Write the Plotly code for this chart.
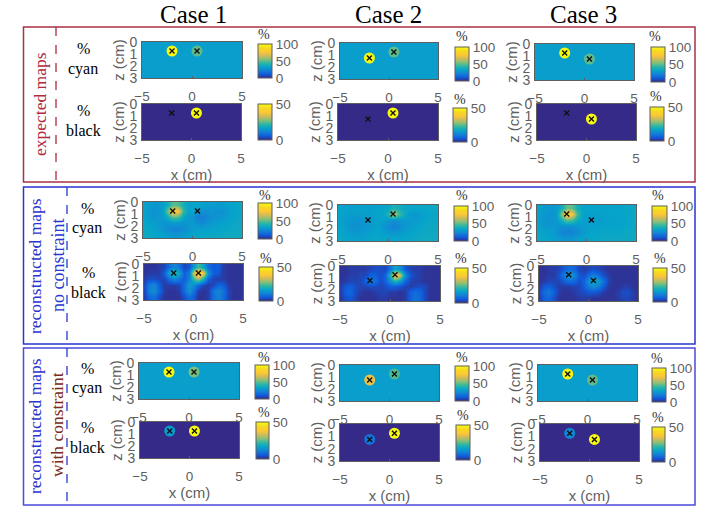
import plotly.graph_objects as go

CASES = ["Case 1", "Case 2", "Case 3"]
X_GRID = [-5, -4.5, -4, -3.5, -3, -2.5, -2, -1.5, -1, -0.5, 0, 0.5, 1, 1.5, 2, 2.5, 3, 3.5, 4, 4.5, 5]
Z_GRID = [0.25, 0.75, 1.25, 1.75, 2.25, 2.75]
X_TICKS = [-5, 0, 5]
Z_TICKS = [0, 1, 2, 3]
CYAN_TICKS = [0, 50, 100]
BLACK_TICKS = [0, 50]
CYAN_MAX = 100
BLACK_MAX = 50

# source positions (x, z) per case
SOURCES = [[(-2, 0.75), (0.5, 0.75)], [(-2, 1.25), (0.5, 0.75)], [(-2, 0.75), (0.5, 1.25)]]

# background level and the two source levels of the piecewise maps
CYAN_BG = 31
BLACK_BG = 0
EXPECTED_CYAN = [[100, 50], [100, 50], [100, 50]]
EXPECTED_BLACK = [[0, 50], [0, 50], [0, 50]]
CONSTRAINED_CYAN = [[100, 53], [72, 48], [98, 50]]
CONSTRAINED_BLACK = [[15, 50], [9, 50], [12, 50]]

RC1 = [
    [33, 31, 29, 29, 31, 38, 50, 48, 38, 33, 33, 33, 32, 31, 31, 30, 30, 32, 33, 34, 35],
    [33, 30, 27, 28, 32, 55, 82, 76, 44, 33, 34, 28, 27, 27, 28, 27, 27, 30, 32, 33, 34],
    [33, 31, 28, 30, 31, 38, 50, 46, 34, 30, 28, 22, 21, 24, 27, 28, 29, 31, 33, 34, 35],
    [34, 33, 31, 30, 28, 28, 29, 28, 28, 29, 30, 26, 25, 28, 30, 31, 32, 33, 34, 35, 35],
    [35, 34, 33, 31, 28, 25, 23, 23, 25, 28, 31, 32, 32, 32, 33, 33, 34, 34, 35, 35, 36],
    [36, 35, 34, 33, 32, 30, 29, 29, 30, 32, 33, 34, 34, 34, 35, 35, 35, 36, 36, 36, 36],
]
RB1 = [
    [1, 1, 1, 2, 3, 8, 12, 9, 3, 5, 15, 23, 17, 8, 5, 6, 2, 1, 1, 1, 1],
    [1, 2, 2, 2, 6, 17, 22, 17, 6, 10, 36, 44, 38, 14, 6, 5, 2, 1, 1, 1, 1],
    [2, 4, 4, 3, 3, 8, 12, 9, 6, 11, 23, 29, 19, 6, 3, 2, 2, 1, 1, 1, 1],
    [3, 10, 12, 6, 2, 2, 2, 3, 8, 15, 12, 7, 3, 2, 3, 7, 6, 2, 1, 1, 1],
    [3, 11, 13, 7, 2, 1, 1, 2, 8, 14, 8, 2, 1, 2, 9, 12, 9, 3, 1, 1, 1],
    [2, 7, 8, 4, 1, 1, 1, 1, 4, 8, 5, 1, 1, 2, 8, 11, 8, 3, 1, 1, 1],
]
RC2 = [
    [33, 33, 32, 32, 32, 32, 32, 32, 33, 33, 34, 40, 38, 35, 34, 34, 34, 34, 34, 35, 35],
    [33, 32, 31, 31, 31, 31, 31, 32, 33, 34, 40, 65, 48, 38, 32, 29, 30, 32, 33, 34, 34],
    [32, 31, 30, 28, 28, 29, 30, 31, 32, 32, 30, 26, 28, 30, 30, 30, 31, 33, 34, 34, 35],
    [33, 32, 29, 27, 27, 28, 29, 31, 32, 29, 25, 22, 24, 28, 30, 32, 33, 34, 35, 35, 35],
    [34, 33, 31, 29, 29, 30, 31, 32, 33, 31, 29, 28, 29, 31, 32, 33, 34, 35, 35, 35, 36],
    [35, 34, 33, 32, 32, 32, 33, 34, 34, 34, 33, 33, 33, 34, 34, 35, 35, 36, 36, 36, 36],
]
RB2 = [
    [1, 1, 2, 2, 2, 2, 3, 4, 4, 3, 9, 17, 13, 5, 3, 2, 2, 1, 1, 1, 1],
    [1, 1, 2, 2, 3, 3, 6, 6, 4, 6, 20, 42, 32, 13, 5, 3, 2, 1, 1, 1, 1],
    [1, 2, 3, 3, 3, 6, 10, 8, 4, 6, 13, 20, 15, 7, 3, 2, 2, 1, 1, 1, 1],
    [2, 5, 6, 4, 3, 3, 4, 4, 3, 4, 6, 6, 5, 3, 2, 3, 4, 3, 1, 1, 1],
    [2, 6, 7, 4, 2, 1, 1, 2, 3, 3, 2, 2, 1, 2, 6, 8, 7, 3, 1, 1, 1],
    [1, 4, 5, 3, 1, 1, 1, 1, 2, 2, 1, 1, 1, 2, 6, 9, 7, 3, 1, 1, 1],
]
RC3 = [
    [33, 31, 29, 29, 31, 38, 52, 50, 38, 33, 33, 33, 33, 33, 33, 33, 33, 33, 34, 34, 35],
    [33, 30, 28, 28, 32, 58, 85, 76, 46, 34, 32, 32, 32, 32, 33, 33, 33, 33, 34, 34, 35],
    [32, 29, 27, 28, 30, 40, 50, 46, 36, 32, 31, 30, 30, 31, 32, 32, 33, 33, 33, 34, 35],
    [33, 30, 29, 30, 28, 26, 26, 27, 28, 30, 31, 32, 32, 33, 33, 33, 33, 33, 34, 34, 35],
    [34, 33, 32, 31, 27, 23, 22, 23, 26, 29, 32, 33, 33, 34, 34, 34, 34, 34, 35, 35, 35],
    [35, 34, 33, 32, 30, 29, 29, 29, 31, 32, 33, 34, 34, 35, 35, 35, 35, 35, 35, 35, 36],
]
RB3 = [
    [1, 1, 2, 2, 3, 6, 8, 7, 3, 2, 3, 4, 3, 2, 1, 1, 1, 1, 1, 1, 1],
    [1, 1, 2, 2, 5, 10, 15, 12, 5, 4, 8, 11, 8, 4, 2, 1, 1, 1, 1, 1, 1],
    [1, 2, 3, 3, 3, 6, 8, 7, 4, 7, 14, 17, 15, 9, 3, 1, 1, 1, 1, 1, 1],
    [2, 5, 6, 4, 2, 2, 2, 3, 3, 6, 11, 13, 11, 6, 2, 1, 1, 2, 2, 1, 1],
    [3, 8, 10, 6, 2, 1, 1, 2, 3, 4, 5, 5, 4, 2, 1, 1, 2, 4, 4, 2, 1],
    [2, 6, 7, 4, 1, 1, 1, 1, 2, 2, 2, 1, 1, 1, 1, 1, 2, 3, 3, 2, 1],
]

PARULA = [
    [0.0, "#352a87"], [0.11, "#0f5cdd"], [0.22, "#1481d6"], [0.33, "#06a4ca"],
    [0.44, "#2eb7a4"], [0.55, "#87bf77"], [0.66, "#d1bb59"], [0.77, "#fec832"],
    [0.88, "#f5d923"], [1.0, "#f9fb0e"],
]

W, H = 712, 515
GRAY = "#5f5f5f"
SANS = "Liberation Sans"
SERIF = "Liberation Serif"

# panel frame (left, top, right, bottom), colorbar frame, colorbar % label position
# order: row expected cyan, expected black, recon cyan, recon black, constrained cyan, constrained black
GEOM = [
    [((142, 42, 242, 78), (258, 44, 272, 78), (264, 35)),
     ((142, 104, 241, 140), (258, 104, 272, 140), None),
     ((143, 202, 242, 238), (258, 203, 272, 239), (265, 195)),
     ((144, 264, 243, 300), (259, 267, 273, 301), (266, 258)),
     ((139, 363, 239, 399), (255, 365, 269, 399), (264, 357)),
     ((140, 422, 239, 458), (256, 422, 269, 459), (264, 412))],
    [((340, 43, 438, 79), (455, 47, 469, 81), (462, 36)),
     ((338, 104, 438, 140), (453, 108, 467, 142), (460, 99)),
     ((338, 205, 438, 241), (454, 206, 468, 241), (462, 195)),
     ((340, 266, 440, 301), (455, 268, 468, 303), (461, 258)),
     ((340, 365, 439, 401), (455, 366, 469, 401), (462, 357)),
     ((340, 424, 439, 461), (456, 425, 470, 460), (463, 415))],
    [((535, 44, 634, 80), (651, 47, 665, 82), (655, 36)),
     ((537, 104, 636, 140), (650, 107, 664, 141), (656, 97)),
     ((537, 205, 636, 241), (652, 206, 667, 241), (658, 195)),
     ((539, 266, 638, 301), (653, 268, 667, 302), (660, 258)),
     ((538, 365, 637, 401), (652, 368, 666, 402), (657, 358)),
     ((540, 424, 639, 461), (652, 427, 665, 462), (658, 417))],
]

RECON = [[RC1, RB1], [RC2, RB2], [RC3, RB3]]
LEVELS = [EXPECTED_CYAN, EXPECTED_BLACK, None, None, CONSTRAINED_CYAN, CONSTRAINED_BLACK]

fig = go.Figure()
layout = {}
annotations = []
shapes = []


def note(x, y, text, size, color="black", angle=0, family=SERIF):
    annotations.append(dict(x=x / W, y=1 - y / H, xref="paper", yref="paper", text=text,
                            showarrow=False, xanchor="center", yanchor="middle",
                            textangle=angle, font=dict(family=family, size=size, color=color)))


n = 0
for c in range(3):
    for r in range(6):
        n += 1
        frame, bar, pct = GEOM[c][r]
        l, t, rr, b = frame
        bl, bt, br, bb = bar
        is_cyan = r % 2 == 0
        vmax = CYAN_MAX if is_cyan else BLACK_MAX
        ticks = CYAN_TICKS if is_cyan else BLACK_TICKS
        xa, ya = f"x{n}", f"y{n}"
        colorbar = dict(x=bl / W, xanchor="left", y=1 - bb / H, yanchor="bottom",
                        len=(bb - bt) / H, lenmode="fraction", thickness=br - bl,
                        thicknessmode="pixels", xpad=0, ypad=0, outlinecolor=GRAY, outlinewidth=1,
                        tickvals=ticks, ticks="", ticklabelposition="outside",
                        tickfont=dict(family=SANS, size=13.5, color=GRAY))
        common = dict(xaxis=xa, yaxis=ya, zmin=0, zmax=vmax, colorscale=PARULA,
                      colorbar=colorbar, hoverinfo="skip")
        if r in (2, 3):
            fig.add_trace(go.Heatmap(x=X_GRID, y=Z_GRID, z=RECON[c][r - 2], zsmooth="best", **common))
        else:
            bg = CYAN_BG if is_cyan else BLACK_BG
            fig.add_trace(go.Heatmap(x=[-5, 5], y=[0, 3], z=[[bg, bg], [bg, bg]], **common))
            levels = LEVELS[r][c]
            fig.add_trace(go.Scatter(
                x=[s[0] for s in SOURCES[c]], y=[s[1] for s in SOURCES[c]], mode="markers",
                xaxis=xa, yaxis=ya, showlegend=False, hoverinfo="skip",
                marker=dict(size=11, symbol="circle", color=levels, cmin=0, cmax=vmax,
                            colorscale=PARULA, showscale=False, line=dict(width=0)),
            ))
        fig.add_trace(go.Scatter(
            x=[s[0] for s in SOURCES[c]], y=[s[1] for s in SOURCES[c]], mode="markers",
            xaxis=xa, yaxis=ya, showlegend=False, hoverinfo="skip",
            marker=dict(size=5, symbol="x-thin", color="#111111", line=dict(width=1.4, color="#111111")),
        ))
        suffix = "" if n == 1 else str(n)
        xaxis = dict(domain=[l / W, rr / W], range=[-5, 5], anchor=ya, tickvals=X_TICKS,
                     showgrid=False, zeroline=False, showline=True, mirror=True, linecolor=GRAY,
                     linewidth=1, ticks="inside", ticklen=2, tickcolor=GRAY, ticklabelstandoff=6,
                     tickfont=dict(family=SANS, size=13.5, color=GRAY))
        if not is_cyan:
            xaxis["title"] = dict(text="x (cm)", standoff=3, font=dict(family=SANS, size=15, color=GRAY))
        yaxis = dict(domain=[1 - b / H, 1 - t / H], range=[3, 0], anchor=xa, tickvals=Z_TICKS,
                     showgrid=False, zeroline=False, showline=True, mirror=True, linecolor=GRAY,
                     linewidth=1, ticks="", ticklabelstandoff=1,
                     tickfont=dict(family=SANS, size=14, color=GRAY),
                     title=dict(text="z (cm)", standoff=1, font=dict(family=SANS, size=15, color=GRAY)))
        layout["xaxis" + suffix] = xaxis
        layout["yaxis" + suffix] = yaxis
        if pct:
            note(pct[0], pct[1], "%", 14, "#333333")

for i, name in enumerate(CASES):
    note([193, 388, 583][i], 15, name, 25)

RED = "#a83246"
BLUE = "#2a35d0"
BLUE2 = "#4a4ae0"
for (x0, y0, x1, y1, col) in [(23.5, 27, 695, 182, RED), (23.5, 187, 695, 344, BLUE), (23.5, 348, 695, 505, BLUE2)]:
    shapes.append(dict(type="rect", xref="paper", yref="paper", x0=x0 / W, x1=x1 / W, y0=1 - y0 / H, y1=1 - y1 / H,
                       line=dict(color=col, width=1.5)))
for (x, y0, y1, col) in [(56, 27, 182, "#b02a3c"), (67, 187, 344, BLUE), (67, 348, 505, BLUE)]:
    shapes.append(dict(type="line", xref="paper", yref="paper", x0=x / W, x1=x / W, y0=1 - y0 / H, y1=1 - y1 / H,
                       line=dict(color=col, width=1.3, dash="dash")))

note(40, 104, "expected maps", 17.5, "#b02a3c", -90)
note(35, 266, "reconstructed maps", 17.5, "#2a35d0", -90)
note(58, 266, "no constraint", 18, "#2a35d0", -90)
note(35, 426, "reconstructed maps", 17.5, "#2a35d0", -90)
note(57, 425, "with constraint", 17.5, "#7a2a1a", -90)

for (x, y1, y2, word) in [(83, 48, 69, "cyan"), (83, 110, 130, "black"), (87, 208, 228, "cyan"),
                          (88, 272, 292, "black"), (87, 368, 388, "cyan"), (87, 427, 447, "black")]:
    note(x, y1, "%", 16)
    note(x, y2, word, 16)

fig.update_layout(width=W, height=H, margin=dict(l=0, r=0, t=0, b=0, autoexpand=False), autosize=False,
                  paper_bgcolor="white", plot_bgcolor="white", showlegend=False,
                  annotations=annotations, shapes=shapes, **layout)
fig.write_html("out.html", config={"displayModeBar": False},
               post_script="document.body.style.margin='0';document.body.style.overflow='hidden';")
